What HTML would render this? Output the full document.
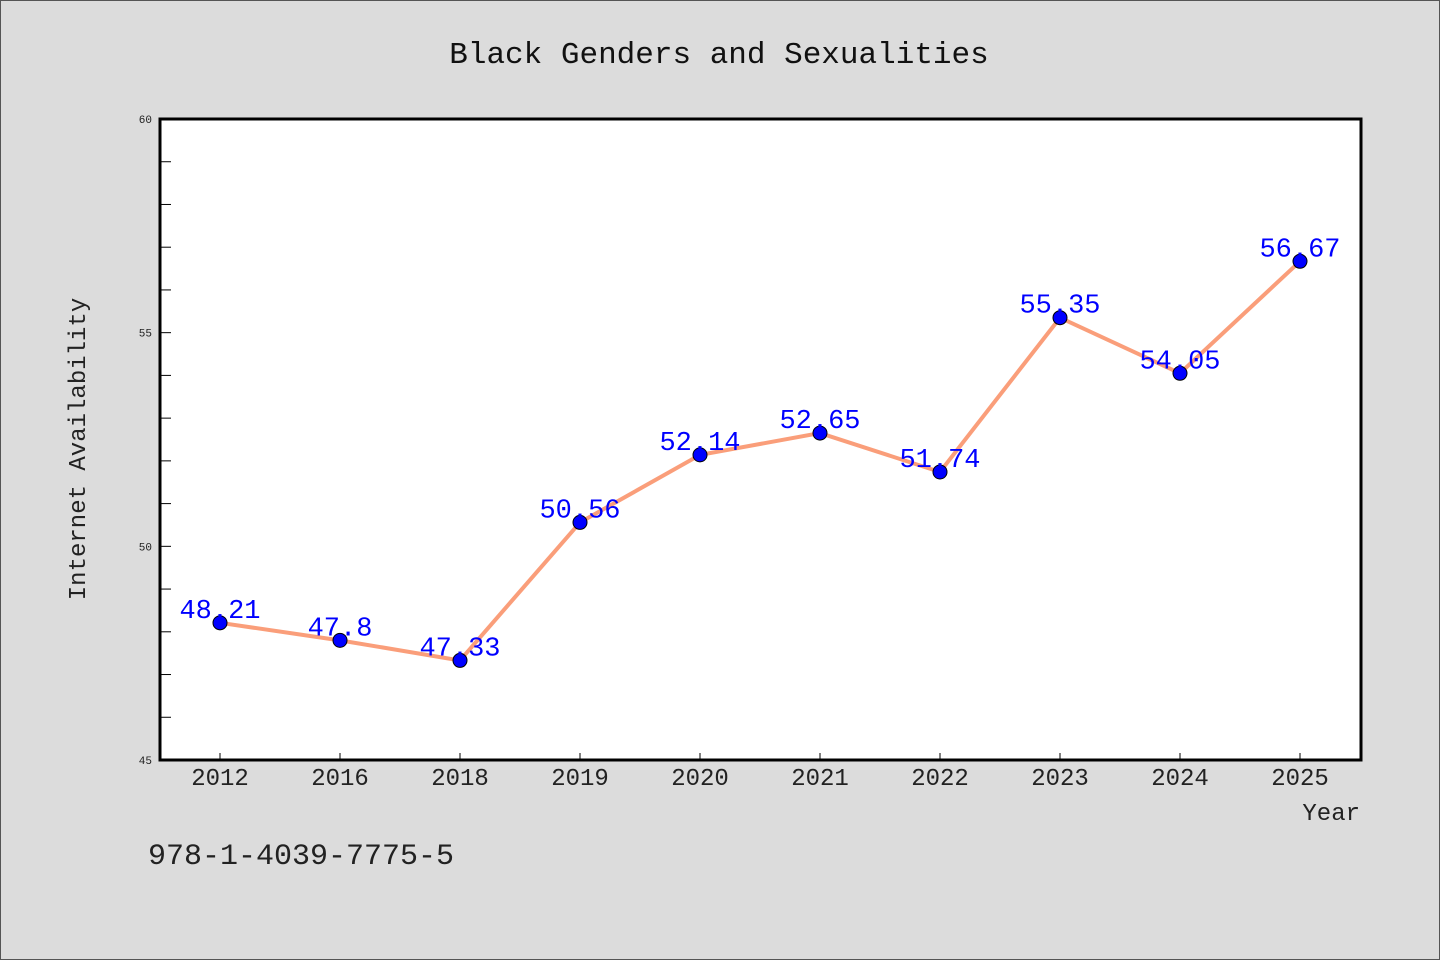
<!DOCTYPE html>
<html><head><meta charset="utf-8"><style>
body{margin:0;background:#dcdcdc;}
svg{display:block;font-family:"Liberation Mono","WenQuanYi Zen Hei",monospace;}
</style></head><body>
<svg id="chart" width="1440" height="960" xmlns="http://www.w3.org/2000/svg">
<rect x="0.5" y="0.5" width="1439" height="959" fill="#dcdcdc" stroke="#555" stroke-width="1"/>
<text x="719" y="63" font-size="31" text-anchor="middle" fill="#111">Black Genders and Sexualities</text>
<rect x="160" y="119" width="1201" height="641" fill="#fff" stroke="#000" stroke-width="3"/>
<g id="yaxis"></g>
<g id="xaxis"></g>
<g id="series"></g>
<text transform="translate(85,449) rotate(-90)" font-size="24" text-anchor="middle" fill="#222">Internet Availability</text>
<text x="1360" y="820" font-size="24" text-anchor="end" fill="#222">Year</text>
<text x="148" y="864" font-size="30" fill="#222">978-1-4039-7775-5</text>
</svg>
<script>
const categories=["2012","2016","2018","2019","2020","2021","2022","2023","2024","2025"];
const values=[48.21,47.8,47.33,50.56,52.14,52.65,51.74,55.35,54.05,56.67];
const valueLabels=["48.21","47.8","47.33","50.56","52.14","52.65","51.74","55.35","54.05","56.67"];
const yTicks=[45,50,55,60];
const yMin=45,yMax=60;
const X0=160,W=1200,Y0=760,Y1=119;
const ns="http://www.w3.org/2000/svg";
function y(v){return Y0-(v-yMin)/(yMax-yMin)*(Y0-Y1);}
function x(i){return X0+W/categories.length*(i+0.5);}
function mk(t,a,p){const e=document.createElementNS(ns,t);for(const k in a)e.setAttribute(k,a[k]);p.appendChild(e);return e;}
const ya=document.getElementById('yaxis'),xa=document.getElementById('xaxis'),s=document.getElementById('series');
for(let v=yMin+1;v<yMax;v++){const l=mk('line',{x1:161,x2:171,y1:y(v),y2:y(v),stroke:'#000','stroke-width':1},ya);
}
yTicks.forEach(v=>{const t=mk('text',{x:152,y:y(v)+4,'font-size':11,'text-anchor':'end',fill:'#222'},ya);t.textContent=v;
});
categories.forEach((c,i)=>{const l=mk('line',{x1:x(i),x2:x(i),y1:759,y2:753,stroke:'#000','stroke-width':1},xa);

const t=mk('text',{x:x(i),y:785,'font-size':24,'text-anchor':'middle',fill:'#222'},xa);t.textContent=c;
});
const pl=mk('polyline',{points:values.map((v,i)=>x(i)+','+y(v)).join(' '),fill:'none',stroke:'#fa9e7a','stroke-width':4},s);

values.forEach((v,i)=>{const c=mk('circle',{cx:x(i),cy:y(v),r:7,fill:'#0000ff',stroke:'#000','stroke-width':1},s);

const t=mk('text',{x:x(i),y:y(v)-5,'font-size':27,'text-anchor':'middle',fill:'#0000ff'},s);t.textContent=valueLabels[i];
});
</script>
</body></html>
